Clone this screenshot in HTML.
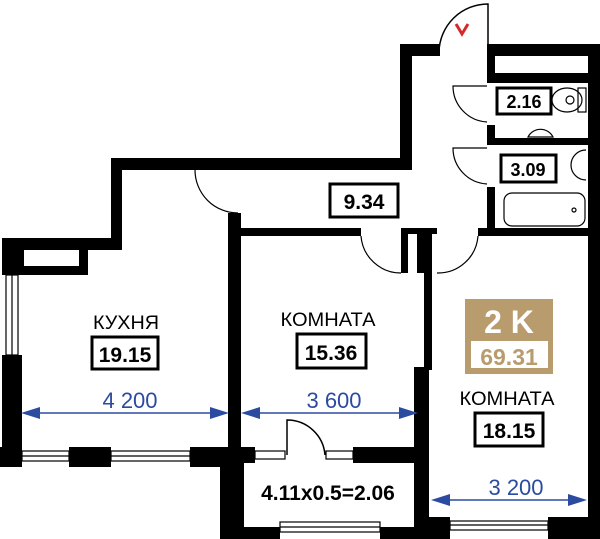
<!DOCTYPE html>
<html><head><meta charset="utf-8"><style>
html,body{margin:0;padding:0;background:#fff;}
svg{display:block;}
text{font-family:"Liberation Sans",sans-serif;}
</style></head><body>
<svg width="600" height="539" viewBox="0 0 600 539" xmlns="http://www.w3.org/2000/svg">
<g fill="#000">
<rect x="400" y="44" width="40" height="12"/>
<rect x="400" y="44" width="12" height="126"/>
<rect x="111" y="158" width="301" height="12"/>
<rect x="111" y="158" width="11" height="92"/>
<rect x="2" y="238" width="120" height="12"/>
<rect x="22" y="250" width="66" height="25"/>
<rect x="2" y="238" width="20" height="37"/>
<rect x="2" y="355" width="20" height="112"/>
<rect x="0" y="447" width="22" height="20"/>
<rect x="69" y="447" width="42" height="20"/>
<rect x="190" y="447" width="40" height="20"/>
<rect x="228" y="213" width="13" height="250"/>
<rect x="220" y="447" width="24" height="92"/>
<rect x="241" y="228" width="120" height="8"/>
<rect x="401" y="228" width="7" height="45"/>
<rect x="417" y="228" width="12" height="45"/>
<rect x="401" y="228" width="36" height="6"/>
<rect x="240" y="447" width="15" height="16"/>
<rect x="353" y="447" width="62" height="16"/>
<rect x="220" y="527" width="60" height="12"/>
<rect x="380" y="527" width="48" height="12"/>
<rect x="414" y="367" width="15" height="172"/>
<rect x="424" y="230" width="8" height="140"/>
<rect x="478" y="228" width="122" height="8"/>
<rect x="429" y="517" width="21" height="22"/>
<rect x="548" y="517" width="52" height="22"/>
<rect x="588" y="44" width="12" height="495"/>
<rect x="487" y="44" width="113" height="12"/>
<rect x="487" y="44" width="8" height="39"/>
<rect x="487" y="73" width="101" height="10"/>
<rect x="487" y="125" width="8" height="20"/>
<rect x="487" y="138" width="101" height="7"/>
<rect x="487" y="187" width="8" height="45"/>
<rect x="480" y="228" width="108" height="8"/>
</g>
<rect x="24" y="250" width="55" height="16" fill="#fff"/>
<g fill="none" stroke="#000" stroke-width="1.2">
<rect x="6" y="275" width="12" height="80"/>
<line x1="12" y1="275" x2="12" y2="355"/>
<rect x="22" y="451" width="47" height="10"/><line x1="22" y1="456" x2="69" y2="456"/>
<rect x="111" y="451" width="79" height="10"/><line x1="111" y1="456" x2="190" y2="456"/>
<rect x="255" y="451" width="30" height="8"/><rect x="326" y="451" width="27" height="8"/>
<rect x="280" y="522" width="100" height="10"/><line x1="280" y1="527" x2="380" y2="527"/>
<rect x="450" y="521" width="98" height="9"/><line x1="450" y1="525" x2="548" y2="525"/>
<path d="M287 455 V420 A38 38 0 0 1 325 455" stroke-width="1.5"/>
<path d="M195 170 A43 43 0 0 0 238 213"/>
<path d="M361 236 A40 40 0 0 0 401 273"/>
<path d="M437 273 A40 40 0 0 0 478 236"/>
<path d="M439 52 A49 49 0 0 1 488 4 V52" stroke-width="1.5"/>
<path d="M487 86 H453 A36 36 0 0 0 487 122"/>
<path d="M487 148 H453 A36 36 0 0 0 487 184"/>
<rect x="504" y="193" width="81" height="33" rx="8"/>
<circle cx="574" cy="210" r="2"/>
<ellipse cx="567" cy="100" rx="15" ry="12"/><circle cx="570" cy="100" r="4"/>
<rect x="578" y="88" width="8" height="24"/>
<path d="M528 137 A14 14 0 0 1 553 137 Z"/>
<path d="M586 150 A15 15 0 0 0 586 180"/>
</g>
<path d="M456 24 L462 34 L468 24" fill="none" stroke="#d42a2a" stroke-width="3"/>
<g fill="#fff" stroke="#000" stroke-width="3">
<rect x="92" y="337" width="66" height="32"/>
<rect x="297" y="334" width="69" height="34"/>
<rect x="475" y="413" width="68" height="33"/>
<rect x="330" y="184" width="68" height="33"/>
<rect x="497" y="88" width="54" height="26"/>
<rect x="501" y="155" width="55" height="27"/>
</g>
<rect x="465" y="299" width="88" height="75" fill="#b89c6e"/>
<rect x="471" y="341" width="77" height="27" fill="#fff"/>
<g font-weight="bold" text-anchor="middle" fill="#000">
<text x="509" y="333" font-size="32" fill="#fff">2 K</text>
<text x="509" y="365" font-size="23" fill="#b89c6e">69.31</text>
<text x="125" y="362" font-size="21">19.15</text>
<text x="331" y="360" font-size="21">15.36</text>
<text x="509" y="438" font-size="21">18.15</text>
<text x="364" y="209" font-size="21">9.34</text>
<text x="524" y="108" font-size="18">2.16</text>
<text x="528" y="176" font-size="18">3.09</text>
<text x="328" y="500" font-size="21">4.11x0.5=2.06</text>
</g>
<g text-anchor="middle" font-size="19" fill="#000">
<text x="126" y="329" textLength="66" lengthAdjust="spacingAndGlyphs">КУХНЯ</text>
<text x="328" y="326" textLength="95" lengthAdjust="spacingAndGlyphs">КОМНАТА</text>
<text x="507" y="405" textLength="95" lengthAdjust="spacingAndGlyphs">КОМНАТА</text>
</g>
<g fill="#2b4ba0" text-anchor="middle" font-size="22">
<text x="130" y="408">4 200</text>
<text x="334" y="408">3 600</text>
<text x="516" y="495">3 200</text>
</g>
<g stroke="#2b4ba0" stroke-width="1.5">
<line x1="25" y1="413" x2="225" y2="413"/>
<line x1="245" y1="413" x2="414" y2="413"/>
<line x1="435" y1="500" x2="583" y2="500"/>
</g>
<g fill="#2b4ba0">
<path d="M21 413 L40 407 L40 419Z"/><path d="M229 413 L210 407 L210 419Z"/>
<path d="M241 413 L260 407 L260 419Z"/><path d="M418 413 L399 407 L399 419Z"/>
<path d="M431 500 L450 494 L450 506Z"/><path d="M587 500 L568 494 L568 506Z"/>
</g>
</svg>
</body></html>
